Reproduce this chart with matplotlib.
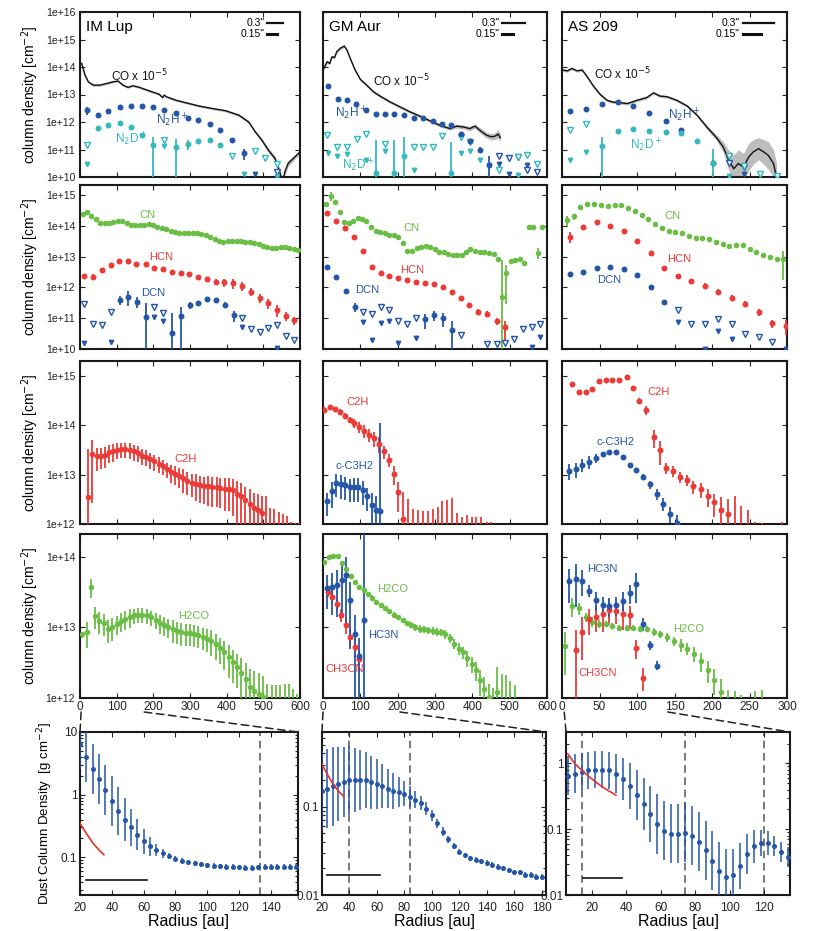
import numpy as np
import matplotlib
matplotlib.use("Agg")
import matplotlib.pyplot as plt
from matplotlib.patches import ConnectionPatch
from matplotlib.ticker import FixedLocator, FuncFormatter, NullLocator, LogLocator, NullFormatter
from matplotlib.transforms import blended_transform_factory

plt.rcParams['font.family'] = ['Liberation Sans', 'DejaVu Sans']

BLUE = '#2656a8'
CYAN = '#35b9bd'
GREEN = '#6abd45'
RED = '#ec3a37'

# ---------------- row 1: CO, N2H+, N2D+ ----------------
# IM Lup
imlup_co_r = [4.5, 13.5, 22.6, 36, 54, 72, 90, 104, 117, 131, 144, 162, 189, 216, 225, 230, 235,
              262, 298, 325, 361, 397, 433, 460, 478, 496, 514, 532, 546, 552, 559, 568, 586, 600]
imlup_co_log = [14.13, 13.71, 13.46, 13.34, 13.34, 13.40, 13.46, 13.49, 13.34, 13.26, 13.32, 13.26,
                13.13, 13.01, 12.89, 12.98, 12.92, 12.79, 12.67, 12.58, 12.49, 12.41, 12.25, 12.00,
                11.64, 11.34, 10.97, 10.67, 10.12, 9.8, 10.2, 10.5, 10.73, 10.91]
imlup_co_err = [0.08, 0.06, 0.05] + [0.04] * 19 + [0.05, 0.05, 0.06, 0.07, 0.08, 0.1, 0.15, 0.2,
                                                     0.15, 0.1, 0.08, 0.08]
imlup_n2hp_r = [18, 48, 77, 108, 140, 170, 200, 230, 262, 294, 323, 354, 383, 415, 447]
imlup_n2hp_log = [12.43, 12.25, 12.41, 12.53, 12.58, 12.58, 12.54, 12.45, 12.33, 12.16, 12.07,
                  11.94, 11.70, 11.36, 10.87]
imlup_n2hp_rel = [0.35, 0.08, 0.08, 0.06, 0.06, 0.06, 0.06, 0.06, 0.06, 0.07, 0.07, 0.08, 0.1,
                  0.12, 0.45]
imlup_n2hp_ul_r, imlup_n2hp_ul_log = [537], [10.18]
imlup_n2hp_ul1_r, imlup_n2hp_ul1_log = [476, 537], [10.12, 9.95]
imlup_n2dp_r = [48, 77, 108, 140, 170, 200, 262, 294, 323, 354, 383]
imlup_n2dp_log = [11.79, 11.88, 11.97, 11.82, 11.54, 11.15, 11.09, 11.19, 11.31, 11.36, 11.15]
imlup_n2dp_rel = [0.06, 0.06, 0.06, 0.07, 0.08, 1.0, 1.0, 0.4, 0.12, 0.1, 0.1]
imlup_n2dp_ul_r = [18, 230, 415, 476, 505, 537]
imlup_n2dp_ul_log = [11.15, 11.36, 10.75, 10.95, 10.70, 10.46]
imlup_n2dp_ul1_r = [18, 230, 447, 537]
imlup_n2dp_ul1_log = [10.49, 11.13, 10.12, 10.05]

# GM Aur
gmaur_co_r = [2, 11, 18, 24, 31, 37, 46, 57, 64, 73, 86, 100, 117, 135, 153, 180, 206, 233, 260,
              287, 313, 340, 358, 376, 393, 407, 420, 438, 451, 460, 469, 475]
gmaur_co_log = [13.95, 14.19, 14.13, 14.37, 14.35, 14.56, 14.68, 14.76, 14.62, 14.31, 13.89, 13.55,
                13.34, 13.10, 12.94, 12.73, 12.55, 12.37, 12.21, 12.04, 11.88, 11.76, 11.85, 11.82,
                11.76, 11.85, 11.70, 11.52, 11.46, 11.48, 11.56, 11.43]
gmaur_co_err = [0.08, 0.06] + [0.05] * 18 + [0.06, 0.06, 0.07, 0.07, 0.08, 0.08, 0.1, 0.1, 0.12,
                                             0.12, 0.15, 0.15]
gmaur_n2hp_r = [13, 39, 64, 89, 116, 141, 166, 191, 217, 243, 268, 294, 319, 344, 370, 395, 420, 445]
gmaur_n2hp_log = [13.30, 12.83, 12.81, 12.67, 12.43, 12.30, 12.28, 12.28, 12.27, 12.15, 12.13,
                  12.03, 11.92, 11.88, 11.58, 11.31, 11.00, 10.45]
gmaur_n2hp_rel = [0.12, 0.05, 0.05, 0.06, 0.05, 0.05, 0.05, 0.05, 0.05, 0.05, 0.05, 0.06, 0.06,
                  0.07, 0.08, 0.1, 0.25, 1.0]
gmaur_n2hp_ul_r = [471, 497, 522, 547, 573]
gmaur_n2hp_ul_log = [10.75, 10.70, 10.73, 10.27, 10.18]
gmaur_n2hp_ul1_r, gmaur_n2hp_ul1_log = [471, 497, 547], [10.49, 10.12, 10.45]
gmaur_n2dp_r = [141, 191, 217, 344]
gmaur_n2dp_log = [10.16, 10.16, 10.75, 10.16]
gmaur_n2dp_rel = [14, 14, 4, 12]
gmaur_n2dp_ul_r = [11, 37, 64, 91, 116, 166, 243, 269, 294, 319, 370, 395, 471, 522, 547, 573]
gmaur_n2dp_ul_log = [11.52, 11.09, 11.09, 11.40, 11.58, 11.19, 11.09, 11.09, 11.09, 11.48, 11.46,
                     11.28, 10.24, 10.73, 10.79, 10.49]
gmaur_n2dp_ul1_r = [13, 37, 64, 116, 166, 243, 370, 395, 420, 445, 522]
gmaur_n2dp_ul1_log = [10.87, 10.75, 10.83, 10.63, 10.95, 10.27, 10.87, 10.93, 10.63, 10.43, 10.06]

# AS 209
as209_co_r = [1, 7, 13, 20, 27, 33, 42, 51, 60, 67, 78, 87, 100, 113, 122, 131, 140, 153, 167,
              180, 193, 206, 215, 222, 229, 235, 242, 249, 255, 262, 269, 275, 282, 286]
as209_co_log = [13.89, 13.86, 13.95, 13.86, 13.89, 13.67, 13.30, 13.00, 12.79, 12.73, 12.70, 12.67,
                12.79, 12.89, 13.06, 12.94, 12.92, 12.79, 12.58, 12.25, 11.82, 11.43, 11.09, 10.63,
                10.30, 10.49, 10.36, 10.73, 10.91, 11.03, 10.91, 10.79, 10.49, 10.0]
as209_co_err = [0.05] * 20 + [0.08, 0.1, 0.2, 0.35, 0.5, 0.5, 0.5, 0.5, 0.45, 0.4, 0.45, 0.5,
                              0.5, 0.5]
as209_n2hp_r = [11, 32, 53, 74, 95, 116, 138, 159, 201]
as209_n2hp_log = [12.41, 12.47, 12.67, 12.73, 12.59, 12.31, 12.03, 11.70, 10.51]
as209_n2hp_rel = [0.15, 0.05, 0.05, 0.05, 0.05, 0.06, 0.06, 0.08, 0.3]
as209_n2hp_ul_r, as209_n2hp_ul_log = [222, 243], [10.52, 10.35]
as209_n2hp_ul1_r, as209_n2hp_ul1_log = [243], [10.1]
as209_n2dp_r = [53, 74, 95, 116, 138, 159, 180, 201]
as209_n2dp_log = [11.13, 11.66, 11.73, 11.66, 11.64, 11.60, 11.31, 10.51]
as209_n2dp_rel = [1.2, 0.05, 0.05, 0.05, 0.05, 0.06, 0.2, 2.3]
as209_n2dp_ul_r = [11, 32, 222, 243, 264, 286]
as209_n2dp_ul_log = [11.70, 11.92, 10.77, 10.40, 10.10, 10.05]
as209_n2dp_ul1_r, as209_n2dp_ul1_log = [11, 32, 222], [10.61, 10.91, 10.05]

# ---------------- row 2: CN, HCN, DCN ----------------
imlup_cn_r = [7, 19, 31, 43, 55, 67, 79, 91, 103, 115, 127, 139, 151, 163, 175, 187, 199, 211, 223,
              235, 247, 259, 271, 283, 295, 307, 319, 331, 343, 355, 367, 379, 391, 403, 415, 427,
              439, 451, 463, 475, 487, 499, 511, 523, 535, 547, 559, 571, 583, 595]
imlup_cn_log = [14.38, 14.43, 14.32, 14.21, 14.08, 14.08, 14.10, 14.13, 14.17, 14.17, 14.08, 14.03,
                14.03, 14.03, 14.03, 14.06, 14.03, 13.97, 13.92, 13.89, 13.83, 13.81, 13.78, 13.78,
                13.78, 13.76, 13.76, 13.73, 13.70, 13.65, 13.56, 13.52, 13.48, 13.52, 13.52, 13.52,
                13.51, 13.48, 13.48, 13.45, 13.41, 13.34, 13.30, 13.27, 13.27, 13.30, 13.30, 13.27,
                13.24, 13.21]
imlup_cn_rel = [0.1] * 10 + [0.05] * 40
imlup_hcn_r = [11, 36, 60, 84, 106, 131, 153, 179, 203, 227, 251, 275, 298, 322, 346, 370, 394,
               418, 442, 466, 490, 514, 538, 561, 584]
imlup_hcn_log = [12.37, 12.35, 12.56, 12.73, 12.84, 12.87, 12.76, 12.75, 12.64, 12.60, 12.51, 12.46,
                 12.42, 12.33, 12.26, 12.19, 12.16, 12.13, 12.05, 11.86, 11.67, 11.48, 11.27, 11.08,
                 10.94]
imlup_hcn_rel = [0.2, 0.2, 0.2, 0.15, 0.12, 0.12, 0.12, 0.1, 0.1, 0.1, 0.1, 0.1, 0.12, 0.15, 0.2,
                 0.25, 0.3, 0.35, 0.3, 0.3, 0.35, 0.35, 0.4, 0.35, 0.3]
imlup_dcn_r = [108, 131, 155, 179, 251, 275, 299, 323, 347, 372, 395, 419]
imlup_dcn_log = [11.59, 11.70, 11.54, 11.03, 10.51, 11.07, 11.43, 11.50, 11.61, 11.59, 11.43, 11.10]
imlup_dcn_rel = [0.3, 0.5, 0.4, 1.9, 3.5, 1.0, 0.25, 0.12, 0.1, 0.1, 0.2, 0.4]
imlup_dcn_ul_r = [11, 36, 60, 84, 203, 227, 442, 466, 490, 514, 538, 561, 584]
imlup_dcn_ul_log = [11.46, 10.81, 10.78, 11.21, 11.37, 11.18, 11.02, 10.64, 10.56, 10.67, 10.78,
                    10.43, 10.29]
imlup_dcn_ul1_r = [11, 84, 203, 227, 442, 538]
imlup_dcn_ul1_log = [10.21, 10.24, 11.05, 10.92, 10.73, 10.02]

gmaur_cn_r = [9, 21, 33, 45, 57, 69, 80, 93, 104, 116, 128, 141, 153, 166, 178, 190, 202, 214, 226,
              239, 251, 263, 275, 287, 299, 312, 323, 336, 347, 360, 371, 384, 395, 408, 420, 432,
              444, 457, 468, 479, 491, 503, 515, 527, 539, 551, 563, 576, 587]
gmaur_cn_log = [14.71, 14.97, 14.78, 14.43, 14.13, 14.10, 14.17, 14.24, 14.21, 14.17, 13.95, 13.84,
                13.81, 13.78, 13.70, 13.70, 13.65, 13.45, 13.19, 13.19, 13.27, 13.30, 13.34, 13.32,
                13.24, 13.16, 13.16, 13.08, 13.05, 13.05, 13.05, 13.16, 13.24, 13.19, 13.16, 13.16,
                13.13, 13.08, 12.91, 11.70, 12.46, 12.87, 12.89, 12.91, 12.78, 13.97, 13.97, 13.13,
                13.97]
gmaur_cn_rel = [0.1, 0.3, 0.15] + [0.1] * 36 + [15, 0.9] + [0.1] * 6 + [0.4, 0.1]
gmaur_hcn_r = [12, 36, 60, 84, 107, 131, 155, 178, 202, 226, 250, 274, 297, 321, 345, 369, 392,
               416, 440, 465, 488]
gmaur_hcn_log = [14.40, 14.17, 13.92, 13.65, 13.18, 12.67, 12.48, 12.37, 12.29, 12.24, 12.19, 12.13,
                 12.10, 12.02, 11.85, 11.67, 11.43, 11.21, 11.14, 10.92, 10.70]
gmaur_hcn_rel = [0.12, 0.1, 0.1, 0.08, 0.08, 0.15, 0.15, 0.15, 0.15, 0.15, 0.15, 0.15, 0.15, 0.15,
                 0.15, 0.15, 0.18, 0.2, 0.2, 0.25, 0.6]
gmaur_dcn_r = [12, 36, 61, 85, 274, 297, 321, 345]
gmaur_dcn_log = [12.67, 12.33, 11.89, 11.37, 10.96, 11.10, 11.0, 10.62]
gmaur_dcn_rel = [0.08, 0.06, 0.08, 0.3, 0.5, 0.35, 0.5, 1.0]
gmaur_dcn_ul_r = [107, 131, 155, 178, 202, 226, 250, 369, 440, 465, 488, 512, 536, 560, 582]
gmaur_dcn_ul_log = [11.21, 11.14, 11.35, 11.27, 10.91, 10.81, 11.0, 10.45, 10.15, 10.15, 10.18,
                    10.31, 10.64, 10.73, 10.81]
gmaur_dcn_ul1_r = [107, 131, 155, 178, 202, 250, 560, 582]
gmaur_dcn_ul1_log = [10.89, 10.29, 10.83, 10.92, 10.21, 10.35, 10.08, 10.38]

as209_cn_r = [7, 16, 24, 33, 43, 52, 61, 70, 79, 88, 97, 106, 115, 124, 133, 142, 151, 160, 169,
              178, 187, 196, 205, 214, 223, 232, 241, 250, 259, 268, 277, 286, 295]
as209_cn_log = [14.19, 14.30, 14.62, 14.71, 14.71, 14.66, 14.64, 14.66, 14.66, 14.59, 14.48, 14.35,
                14.21, 14.06, 13.92, 13.83, 13.80, 13.76, 13.66, 13.61, 13.61, 13.57, 13.48, 13.40,
                13.35, 13.36, 13.36, 13.26, 13.16, 13.05, 12.98, 12.93, 12.93]
as209_cn_rel = [0.35, 0.25] + [0.05] * 26 + [0.15, 0.15, 0.15, 0.15, 0.8]
as209_hcn_r = [10, 28, 46, 64, 82, 100, 118, 136, 154, 172, 190, 208, 226, 244, 262, 280, 298]
as209_hcn_log = [13.65, 13.97, 14.11, 14.0, 13.83, 13.52, 13.11, 12.64, 12.37, 12.21, 12.06, 11.86,
                 11.67, 11.46, 11.21, 10.83, 10.76]
as209_hcn_rel = [0.4, 0.08, 0.06, 0.06, 0.06, 0.06, 0.06, 0.1, 0.15, 0.15, 0.18, 0.2, 0.2, 0.22,
                 0.25, 0.3, 0.5]
as209_dcn_r = [10, 28, 46, 64, 82, 100, 118, 136]
as209_dcn_log = [12.42, 12.49, 12.64, 12.67, 12.61, 12.39, 12.02, 11.52]
as209_dcn_rel = [0.15, 0.06, 0.06, 0.06, 0.06, 0.06, 0.08, 0.15]
as209_dcn_ul_r = [154, 172, 190, 208, 226, 244, 262, 280]
as209_dcn_ul_log = [11.27, 10.80, 10.80, 10.96, 10.80, 10.48, 10.38, 10.22]
as209_dcn_ul1_r = [154, 190, 208, 226, 298]
as209_dcn_ul1_log = [10.89, 10.0, 10.60, 10.31, 10.0]

# ---------------- row 3: C2H, c-C3H2 ----------------
imlup_c2h_r = [21, 34, 45, 57, 69, 79, 90, 102, 113, 124, 135, 147, 158, 170, 180, 192, 203, 215,
               225, 237, 248, 260, 271, 282, 293, 305, 316, 327, 338, 350, 361, 373, 383, 395, 406,
               418, 428, 440, 451, 463, 474, 485, 496, 508, 519, 530, 542, 553, 564, 575, 587, 598]
imlup_c2h_log = [12.54, 13.42, 13.37, 13.37, 13.40, 13.45, 13.47, 13.50, 13.52, 13.52, 13.50, 13.47,
                 13.44, 13.38, 13.36, 13.31, 13.27, 13.22, 13.17, 13.11, 13.05, 13.02, 12.98, 12.93,
                 12.88, 12.84, 12.82, 12.78, 12.76, 12.76, 12.75, 12.74, 12.73, 12.71, 12.71, 12.68,
                 12.61, 12.56, 12.48, 12.41, 12.32, 12.29, 12.22, 11.9, 11.85, 11.8, 11.75, 11.7,
                 11.65, 11.6, 11.55, 11.5]
imlup_c2h_rel = [8.5, 0.9, 0.5, 0.45, 0.45, 0.4, 0.4, 0.35, 0.35, 0.35] + [0.35] * 10 + \
                [0.4, 0.4, 0.45, 0.5, 0.5, 0.5, 0.55, 0.55, 0.55, 0.6, 0.6, 0.6, 0.6, 0.65, 0.65,
                 0.7, 0.8, 0.9, 0.9, 1.0, 1.0, 1.1, 1.2, 3.6, 1.95, 2.2, 2.1, 2.2, 2.2, 1.8, 2.0, 2.3]

gmaur_c2h_r = [4, 18, 31, 45, 58, 71, 84, 97, 110, 124, 137, 150, 163, 176, 189, 202, 215, 229,
               242, 255, 268, 280, 294, 307, 320, 333, 346, 359, 372, 385, 398, 411, 424, 438, 450]
gmaur_c2h_log = [14.31, 14.37, 14.33, 14.27, 14.19, 14.11, 14.04, 13.96, 13.89, 13.81, 13.74, 13.63,
                 13.47, 13.30, 13.02, 12.64, 12.10] + [11.5] * 18
gmaur_c2h_rel = [0.15, 0.12, 0.12, 0.12, 0.15, 0.15, 0.2, 0.25, 0.3, 0.3, 0.35, 0.35, 0.3, 0.3,
                 0.4, 0.6, 2.5, 9.2, 5.3, 5.0, 4.9, 4.75, 5.3, 5.9, 8.3, 8.5, 9.7, 4.2, 3.4, 3.8,
                 3.3, 3.3, 3.3, 2.5, 2.5]
gmaur_cc3h2_r = [11, 23, 36, 47, 60, 71, 84, 95, 107, 119, 131, 142, 154]
gmaur_cc3h2_log = [12.46, 12.67, 12.84, 12.81, 12.78, 12.74, 12.75, 12.75, 12.69, 12.56, 12.39,
                   12.29, 12.26]
gmaur_cc3h2_rel = [0.5, 0.55, 0.5, 0.5, 0.5, 0.5, 0.5, 0.5, 0.5, 0.5, 0.7, 0.9, 60]

as209_c2h_r = [13, 22, 32, 40, 49, 59, 67, 76, 86, 95, 103, 112, 122, 131, 139, 148, 157, 167,
               175, 185, 194, 202, 212, 221, 230, 239, 248, 257, 266, 293]
as209_c2h_log = [14.83, 14.68, 14.67, 14.73, 14.89, 14.92, 14.91, 14.91, 14.97, 14.75, 14.50, 14.31,
                 13.76, 13.50, 13.13, 13.08, 12.96, 12.90, 12.76, 12.71, 12.56, 12.44, 12.29, 12.20,
                 11.5, 11.5, 11.5, 11.5, 11.5, 11.5]
as209_c2h_rel = [0.03] * 9 + [0.12, 0.15, 0.2, 0.4, 0.5, 0.25, 0.25, 0.25, 0.25, 0.3, 0.35, 0.4,
                              0.5, 0.8, 1.0, 10.5, 6.2, 5.0, 2.4, 2.3, 2.5]
as209_cc3h2_r = [9, 18, 27, 36, 45, 54, 63, 72, 81, 90, 99, 108, 117, 126, 135, 144, 153]
as209_cc3h2_log = [13.08, 13.11, 13.20, 13.26, 13.34, 13.42, 13.46, 13.46, 13.36, 13.20, 13.09,
                   12.96, 12.80, 12.61, 12.41, 12.21, 12.03]
as209_cc3h2_rel = [0.35, 0.35, 0.3, 0.3, 0.2, 0.1, 0.05, 0.05, 0.05, 0.08, 0.1, 0.15, 0.2, 0.25,
                   0.3, 0.35, 0.4]

# ---------------- row 4: H2CO, HC3N, CH3CN ----------------
imlup_h2co_r = [5, 18, 30, 41, 53, 65, 77, 88, 100, 112, 124, 135, 147, 159, 170, 182, 194, 206,
                217, 229, 241, 253, 264, 276, 288, 299, 311, 323, 335, 346, 358, 370, 382, 393,
                405, 417, 428, 440, 452, 464, 475, 487, 499, 511, 523, 534, 546, 558, 570, 582, 593]
imlup_h2co_log = [12.90, 12.93, 13.57, 13.16, 13.09, 13.06, 12.97, 13.00, 13.05, 13.09, 13.12,
                  13.15, 13.17, 13.18, 13.18, 13.17, 13.14, 13.10, 13.06, 13.03, 13.00, 12.97,
                  12.95, 12.93, 12.92, 12.92, 12.91, 12.89, 12.86, 12.84, 12.81, 12.76, 12.71,
                  12.65, 12.58, 12.51, 12.44, 12.36, 12.27, 12.16, 12.10, 12.05, 12.01] + [11.7] * 8
imlup_h2co_rel = [0.1, 0.4, 0.3, 0.35, 0.35, 0.35, 0.35, 0.35, 0.3, 0.3, 0.3, 0.3, 0.25, 0.25,
                  0.25, 0.25, 0.25, 0.25, 0.3, 0.3, 0.3, 0.35, 0.35, 0.35, 0.35, 0.35, 0.35, 0.35,
                  0.35, 0.35, 0.4, 0.4, 0.4, 0.45, 0.5, 0.5, 0.5, 0.6, 0.7, 0.8, 0.9, 1.0, 1.0,
                  2.2, 2.0, 2.0, 2.0, 2.1, 2.1, 1.7, 1.3]

gmaur_h2co_r = [4, 16, 28, 39, 51, 62, 74, 85, 97, 109, 120, 132, 143, 155, 166, 178, 190, 201,
                213, 224, 236, 247, 259, 271, 282, 294, 305, 317, 328, 340, 352, 363, 375, 386,
                398, 409, 421, 432, 444, 456, 467, 479, 490, 502, 513]
gmaur_h2co_log = [13.92, 13.99, 14.01, 14.01, 13.91, 13.82, 13.73, 13.64, 13.57, 13.53, 13.47,
                  13.42, 13.36, 13.31, 13.27, 13.23, 13.18, 13.14, 13.10, 13.06, 13.03, 13.00,
                  12.98, 12.97, 12.96, 12.95, 12.94, 12.93, 12.90, 12.85, 12.77, 12.70, 12.65,
                  12.57, 12.48, 12.39, 12.25, 12.13, 12.02, 11.7, 12.08, 11.7, 11.7, 11.7, 11.7]
gmaur_h2co_rel = [0.05] * 8 + [0.06, 0.06] + [0.08] * 10 + \
                 [0.1, 0.1, 0.12, 0.12, 0.12, 0.12, 0.12, 0.12, 0.15, 0.15, 0.15, 0.2, 0.2, 0.25,
                  0.25, 0.3, 0.4, 0.45, 0.5, 1.8, 1.3, 3.4, 3.2, 2.5, 2.0]
gmaur_hc3n_r = [12, 25, 37, 50, 61, 73, 85, 97, 109]
gmaur_hc3n_log = [13.56, 13.57, 13.60, 13.67, 13.74, 13.39, 12.90, 12.60, 13.11]
gmaur_hc3n_rel = [0.5, 0.6, 0.65, 0.7, 0.8, 0.8, 0.9, 0.8, 20]
gmaur_ch3cn_r = [13, 25, 37, 49, 61, 73, 85, 96]
gmaur_ch3cn_log = [13.50, 13.43, 13.33, 13.18, 13.03, 12.87, 12.72, 12.55]
gmaur_ch3cn_rel = [0.15, 0.2, 0.2, 0.2, 0.25, 0.3, 0.3, 0.35]

as209_h2co_r = [4, 13, 23, 32, 40, 49, 59, 67, 76, 86, 95, 104, 113, 122, 131, 140, 149, 158, 167,
                176, 185, 194, 203, 212, 221, 230, 239, 257, 266]
as209_h2co_log = [12.73, 13.30, 13.27, 13.14, 13.08, 13.05, 13.05, 13.02, 12.99, 12.99, 12.99,
                  12.98, 12.98, 12.94, 12.90, 12.86, 12.81, 12.75, 12.70, 12.63, 12.53, 12.40,
                  12.26, 12.09, 11.7, 11.7, 11.7, 11.7, 11.7]
as209_h2co_rel = [0.6, 0.3, 0.2, 0.15, 0.15, 0.12, 0.1, 0.1, 0.1, 0.1, 0.1, 0.1, 0.1, 0.12, 0.12,
                  0.15, 0.15, 0.2, 0.2, 0.25, 0.3, 0.35, 0.4, 0.5, 1.6, 1.5, 1.2, 1.5, 1.6]
as209_hc3n_r = [9, 18, 27, 36, 45, 54, 63, 72, 81, 90, 99, 108, 117, 126]
as209_hc3n_log = [13.65, 13.69, 13.66, 13.52, 13.39, 13.32, 13.30, 13.31, 13.38, 13.48, 13.61,
                  13.05, 12.75, 12.46]
as209_hc3n_rel = [0.5, 0.6, 0.4, 0.2, 0.3, 0.3, 0.3, 0.3, 0.3, 0.3, 0.45, 0.2, 0.15, 0.15]
as209_ch3cn_r = [18, 27, 36, 45, 54, 63, 72, 81, 90, 99, 108]
as209_ch3cn_log = [12.68, 12.94, 13.12, 13.15, 13.19, 13.25, 13.23, 13.19, 13.17, 12.71, 12.29]
as209_ch3cn_rel = [0.9, 0.6, 0.4, 0.4, 0.45, 0.4, 0.35, 0.4, 0.35, 0.3, 0.35]

# ---------------- row 5: dust column density ----------------
imlup_dust_r = [20, 24, 28, 32, 36, 40, 44, 48, 52, 56, 60, 64, 68, 72, 76, 80, 84, 88, 92, 96, 100,
                104, 108, 112, 116, 120, 124, 128, 132, 136, 140, 144, 148, 152, 156]
imlup_dust = [6.5, 4.0, 2.6, 1.8, 1.2, 0.80, 0.55, 0.40, 0.30, 0.23, 0.18, 0.15, 0.13, 0.115,
              0.105, 0.095, 0.088, 0.083, 0.080, 0.077, 0.075, 0.073, 0.072, 0.071, 0.070, 0.069,
              0.068, 0.068, 0.069, 0.070, 0.070, 0.071, 0.071, 0.070, 0.070]
imlup_dust_dex = [0.4, 0.4, 0.4, 0.4, 0.4, 0.4, 0.38, 0.35, 0.3, 0.25, 0.2, 0.15, 0.1, 0.07,
                  0.05] + [0.04] * 20
imlup_model_r, imlup_model = [20, 24, 28, 32, 35], [0.35, 0.24, 0.17, 0.13, 0.11]
imlup_beam_r, imlup_beam_y = [24, 62], 0.044
imlup_rings = [133]

gmaur_dust_r = [20, 24, 28, 32, 36, 40, 44, 48, 52, 56, 60, 64, 68, 72, 76, 80, 84, 88, 92, 96,
                100, 104, 108, 112, 116, 120, 124, 128, 132, 136, 140, 144, 148, 152, 156, 160,
                164, 168, 172, 176, 180]
gmaur_dust = [0.15, 0.16, 0.17, 0.18, 0.19, 0.20, 0.20, 0.20, 0.20, 0.19, 0.18, 0.17, 0.16, 0.15,
              0.145, 0.14, 0.13, 0.12, 0.11, 0.095, 0.08, 0.065, 0.052, 0.043, 0.036, 0.031,
              0.028, 0.026, 0.025, 0.024, 0.023, 0.022, 0.021, 0.020, 0.019, 0.018, 0.018, 0.017,
              0.017, 0.016, 0.016]
gmaur_dust_dex = [0.45, 0.45, 0.45, 0.42, 0.4, 0.38, 0.36, 0.34, 0.32, 0.3, 0.28, 0.25, 0.22, 0.2,
                  0.17, 0.14, 0.12, 0.1, 0.08, 0.07, 0.06, 0.05, 0.05, 0.04] + [0.03] * 17
gmaur_model_r, gmaur_model = [20, 24, 28, 32, 36], [0.30, 0.23, 0.18, 0.15, 0.13]
gmaur_beam_r, gmaur_beam_y = [24, 62], 0.017
gmaur_rings = [40, 84]

as209_dust_r = [6, 10, 14, 18, 22, 26, 30, 34, 38, 42, 46, 50, 54, 58, 62, 66, 70, 74, 78, 82, 86,
                90, 94, 98, 102, 106, 110, 114, 118, 122, 126, 130, 134]
as209_dust = [0.65, 0.70, 0.75, 0.78, 0.80, 0.80, 0.78, 0.70, 0.58, 0.45, 0.33, 0.24, 0.17, 0.12,
              0.095, 0.085, 0.085, 0.088, 0.080, 0.065, 0.048, 0.033, 0.023, 0.019, 0.020, 0.028,
              0.042, 0.055, 0.062, 0.062, 0.055, 0.045, 0.038]
as209_dust_dex = [0.3, 0.3, 0.28, 0.28, 0.28, 0.28, 0.28, 0.3, 0.32, 0.35, 0.38, 0.4, 0.42, 0.45,
                  0.45, 0.45, 0.45, 0.45, 0.45, 0.45, 0.45, 0.45, 0.45, 0.42, 0.4, 0.35, 0.3, 0.25,
                  0.2, 0.18, 0.15, 0.15, 0.15]
as209_model_r = [6, 10, 15, 20, 25, 30, 34]
as209_model = [1.4, 1.0, 0.75, 0.58, 0.46, 0.38, 0.33]
as209_beam_r, as209_beam_y = [15, 37.6], 0.018
as209_rings = [14, 74, 120]

SOURCES = ['IM Lup', 'GM Aur', 'AS 209']

# ---------------- layout (pixel boxes) ----------------
W, H = 827, 931
COLS = [(80, 300), (323, 547), (562, 787)]
ROWS = [(12, 177), (185, 349), (361, 524), (534, 698)]
BOTTOM_COLS = [(80, 298), (322, 546), (566, 790)]
BOTTOM_ROW = (732, 895)
XMAX = [600, 600, 300]
YLIMS = [(1e10, 1e16), (1e10, 2.1e15), (1e12, 2e15), (1e12, 2.1e14)]
# where the dashed zoom guides leave the upper panels (data x), left and right
ZOOM_FROM = [(3, 175), (0, 206), (3, 141)]


def px_axes(fig, xs, ys):
    x0, x1 = xs
    y0, y1 = ys
    return fig.add_axes([x0 / W, 1 - y1 / H, (x1 - x0) / W, (y1 - y0) / H])


def style_box(ax):
    for s in ax.spines.values():
        s.set_linewidth(1.5)
        s.set_color('#1a1a1a')
    ax.tick_params(which='both', direction='in', top=True, right=True, labelsize=7.5,
                   width=0.8, colors='#222222')
    ax.tick_params(which='major', length=3.5)
    ax.tick_params(which='minor', length=2)


def detections(ax, r, logn, rel, color, ms=4.3, cap=1.2):
    v = 10.0 ** np.asarray(logn)
    err = v * np.asarray(rel)
    lo = np.minimum(err, v * (1 - 1e-9))
    ax.errorbar(r, v, yerr=[lo, err], fmt='o', color=color, ms=ms, mew=0, elinewidth=1.3,
                capsize=cap, capthick=1.0, zorder=3)


def limits(ax, r3, log3, r1, log1, color):
    ax.plot(r3, 10.0 ** np.asarray(log3), 'v', mfc='white', mec=color, mew=1.0, ms=4.6,
            ls='none', zorder=3)
    ax.plot(r1, 10.0 ** np.asarray(log1), 'v', color=color, ms=3.2, ls='none', zorder=3)


def co_line(ax, r, logn, err_dex):
    v = 10.0 ** np.asarray(logn)
    e = np.asarray(err_dex)
    ax.fill_between(r, v * 10.0 ** (-e), v * 10.0 ** e, color='#bdbdbd', lw=0, zorder=1)
    ax.plot(r, v, color='#111111', lw=1.0, zorder=2)


def label(ax, x, logn, text, color, size=8):
    ax.text(x, 10.0 ** logn, text, color=color, fontsize=size, ha='left', va='center', zorder=5)


fig = plt.figure(figsize=(W / 100, H / 100), dpi=100)

axes = [[px_axes(fig, COLS[j], ROWS[i]) for j in range(3)] for i in range(4)]
dec_fmt = FuncFormatter(lambda v, p: f"1e+{int(round(np.log10(v)))}")

for i in range(4):
    for j in range(3):
        ax = axes[i][j]
        ax.set_yscale('log')
        ax.set_xlim(0, XMAX[j])
        ax.set_ylim(*YLIMS[i])
        style_box(ax)
        ax.yaxis.set_major_locator(LogLocator(base=10, numticks=12))
        ax.yaxis.set_minor_locator(NullLocator())
        step = 100 if XMAX[j] == 600 else 50
        ax.xaxis.set_major_locator(FixedLocator(list(range(0, XMAX[j] + 1, step))))
        if j == 0:
            ax.yaxis.set_major_formatter(dec_fmt)
            ax.set_ylabel('column density [cm$^{-2}$]', fontsize=10, labelpad=3)
        else:
            ax.yaxis.set_major_formatter(NullFormatter())
        if i < 3:
            ax.xaxis.set_major_formatter(NullFormatter())
        else:
            ax.tick_params(axis='x', labelsize=8.5, pad=2)

# row 1
scale_pos = [(0.84, 0.85, 0.923, 0.895), (0.79, 0.80, 0.90, 0.85), (0.79, 0.805, 0.94, 0.885)]
for j, name in enumerate(SOURCES):
    ax = axes[0][j]
    ax.text(0.025, 0.95, name, transform=ax.transAxes, fontsize=11, ha='left', va='top')
    tx, l0, l1, l2 = scale_pos[j]
    ax.text(tx, 0.933, '0.3"', transform=ax.transAxes, fontsize=7.5, ha='right', va='center')
    ax.text(tx, 0.867, '0.15"', transform=ax.transAxes, fontsize=7.5, ha='right', va='center')
    ax.plot([l0, l1], [0.933, 0.933], transform=ax.transAxes, color='#111111', lw=1.6)
    ax.plot([l0, l2], [0.867, 0.867], transform=ax.transAxes, color='#111111', lw=2.2)

ax = axes[0][0]
co_line(ax, imlup_co_r, imlup_co_log, imlup_co_err)
detections(ax, imlup_n2hp_r, imlup_n2hp_log, imlup_n2hp_rel, BLUE, cap=0)
limits(ax, imlup_n2hp_ul_r, imlup_n2hp_ul_log, imlup_n2hp_ul1_r, imlup_n2hp_ul1_log, BLUE)
detections(ax, imlup_n2dp_r, imlup_n2dp_log, imlup_n2dp_rel, CYAN, cap=0)
limits(ax, imlup_n2dp_ul_r, imlup_n2dp_ul_log, imlup_n2dp_ul1_r, imlup_n2dp_ul1_log, CYAN)
label(ax, 84, 13.67, 'CO x 10$^{-5}$', '#111111', 8.5)
label(ax, 207, 12.07, 'N$_2$H$^+$', BLUE, 8.5)
label(ax, 95, 11.36, 'N$_2$D$^+$', CYAN, 8.5)

ax = axes[0][1]
co_line(ax, gmaur_co_r, gmaur_co_log, gmaur_co_err)
detections(ax, gmaur_n2hp_r, gmaur_n2hp_log, gmaur_n2hp_rel, BLUE, cap=0)
limits(ax, gmaur_n2hp_ul_r, gmaur_n2hp_ul_log, gmaur_n2hp_ul1_r, gmaur_n2hp_ul1_log, BLUE)
detections(ax, gmaur_n2dp_r, gmaur_n2dp_log, gmaur_n2dp_rel, CYAN, cap=0)
limits(ax, gmaur_n2dp_ul_r, gmaur_n2dp_ul_log, gmaur_n2dp_ul1_r, gmaur_n2dp_ul1_log, CYAN)
label(ax, 135, 13.49, 'CO x 10$^{-5}$', '#111111', 8.5)
label(ax, 31, 12.33, 'N$_2$H$^+$', BLUE, 8.5)
label(ax, 51, 10.42, 'N$_2$D$^+$', CYAN, 8.5)

ax = axes[0][2]
co_line(ax, as209_co_r, as209_co_log, as209_co_err)
detections(ax, as209_n2hp_r, as209_n2hp_log, as209_n2hp_rel, BLUE, cap=0)
limits(ax, as209_n2hp_ul_r, as209_n2hp_ul_log, as209_n2hp_ul1_r, as209_n2hp_ul1_log, BLUE)
detections(ax, as209_n2dp_r, as209_n2dp_log, as209_n2dp_rel, CYAN, cap=0)
limits(ax, as209_n2dp_ul_r, as209_n2dp_ul_log, as209_n2dp_ul1_r, as209_n2dp_ul1_log, CYAN)
label(ax, 42, 13.74, 'CO x 10$^{-5}$', '#111111', 8.5)
label(ax, 142, 12.25, 'N$_2$H$^+$', BLUE, 8.5)
label(ax, 91, 11.15, 'N$_2$D$^+$', CYAN, 8.5)

# row 2
ax = axes[1][0]
detections(ax, imlup_cn_r, imlup_cn_log, imlup_cn_rel, GREEN, ms=4.0)
detections(ax, imlup_hcn_r, imlup_hcn_log, imlup_hcn_rel, RED)
detections(ax, imlup_dcn_r, imlup_dcn_log, imlup_dcn_rel, BLUE)
limits(ax, imlup_dcn_ul_r, imlup_dcn_ul_log, imlup_dcn_ul1_r, imlup_dcn_ul1_log, BLUE)
label(ax, 161, 14.35, 'CN', GREEN)
label(ax, 188, 12.98, 'HCN', RED)
label(ax, 167, 11.81, 'DCN', BLUE)

ax = axes[1][1]
detections(ax, gmaur_cn_r, gmaur_cn_log, gmaur_cn_rel, GREEN, ms=4.0)
detections(ax, gmaur_hcn_r, gmaur_hcn_log, gmaur_hcn_rel, RED)
detections(ax, gmaur_dcn_r, gmaur_dcn_log, gmaur_dcn_rel, BLUE)
limits(ax, gmaur_dcn_ul_r, gmaur_dcn_ul_log, gmaur_dcn_ul1_r, gmaur_dcn_ul1_log, BLUE)
label(ax, 214, 13.92, 'CN', GREEN)
label(ax, 206, 12.56, 'HCN', RED)
label(ax, 86, 11.92, 'DCN', BLUE)

ax = axes[1][2]
detections(ax, as209_cn_r, as209_cn_log, as209_cn_rel, GREEN, ms=4.0)
detections(ax, as209_hcn_r, as209_hcn_log, as209_hcn_rel, RED)
detections(ax, as209_dcn_r, as209_dcn_log, as209_dcn_rel, BLUE)
limits(ax, as209_dcn_ul_r, as209_dcn_ul_log, as209_dcn_ul1_r, as209_dcn_ul1_log, BLUE)
label(ax, 136, 14.30, 'CN', GREEN)
label(ax, 140, 12.91, 'HCN', RED)
label(ax, 47, 12.24, 'DCN', BLUE)

# row 3
ax = axes[2][0]
detections(ax, imlup_c2h_r, imlup_c2h_log, imlup_c2h_rel, RED, ms=4.0)
label(ax, 257, 13.31, 'C2H', RED)

ax = axes[2][1]
detections(ax, gmaur_c2h_r, gmaur_c2h_log, gmaur_c2h_rel, RED)
detections(ax, gmaur_cc3h2_r, gmaur_cc3h2_log, gmaur_cc3h2_rel, BLUE)
label(ax, 62, 14.48, 'C2H', RED)
label(ax, 33, 13.18, 'c-C3H2', BLUE)

ax = axes[2][2]
detections(ax, as209_c2h_r, as209_c2h_log, as209_c2h_rel, RED)
detections(ax, as209_cc3h2_r, as209_cc3h2_log, as209_cc3h2_rel, BLUE)
label(ax, 114, 14.67, 'C2H', RED)
label(ax, 46, 13.67, 'c-C3H2', BLUE)

# row 4
ax = axes[3][0]
detections(ax, imlup_h2co_r, imlup_h2co_log, imlup_h2co_rel, GREEN, ms=4.0)
label(ax, 268, 13.16, 'H2CO', GREEN)

ax = axes[3][1]
detections(ax, gmaur_h2co_r, gmaur_h2co_log, gmaur_h2co_rel, GREEN, ms=4.0)
detections(ax, gmaur_ch3cn_r, gmaur_ch3cn_log, gmaur_ch3cn_rel, RED)
detections(ax, gmaur_hc3n_r, gmaur_hc3n_log, gmaur_hc3n_rel, BLUE)
label(ax, 146, 13.54, 'H2CO', GREEN)
label(ax, 122, 12.89, 'HC3N', BLUE)
label(ax, 6, 12.41, 'CH3CN', RED)

ax = axes[3][2]
detections(ax, as209_h2co_r, as209_h2co_log, as209_h2co_rel, GREEN, ms=4.0)
detections(ax, as209_ch3cn_r, as209_ch3cn_log, as209_ch3cn_rel, RED)
detections(ax, as209_hc3n_r, as209_hc3n_log, as209_hc3n_rel, BLUE)
label(ax, 33, 13.83, 'HC3N', BLUE)
label(ax, 148, 12.98, 'H2CO', GREEN)
label(ax, 22, 12.36, 'CH3CN', RED)

# row 5: dust
dust = [
    (imlup_dust_r, imlup_dust, imlup_dust_dex, imlup_model_r, imlup_model, imlup_beam_r,
     imlup_beam_y, imlup_rings, (20, 157), (0.025, 10), [20, 40, 60, 80, 100, 120, 140],
     [0.1, 1, 10]),
    (gmaur_dust_r, gmaur_dust, gmaur_dust_dex, gmaur_model_r, gmaur_model, gmaur_beam_r,
     gmaur_beam_y, gmaur_rings, (20, 183), (0.01, 0.7), [20, 40, 60, 80, 100, 120, 140, 160, 180],
     [0.01, 0.1]),
    (as209_dust_r, as209_dust, as209_dust_dex, as209_model_r, as209_model, as209_beam_r,
     as209_beam_y, as209_rings, (5, 135), (0.01, 3), [20, 40, 60, 80, 100, 120],
     [0.01, 0.1, 1]),
]

bottom_axes = []
for j, (r, val, dex, mr, mv, br, by, rings, xl, yl, xt, yt) in enumerate(dust):
    ax = px_axes(fig, BOTTOM_COLS[j], BOTTOM_ROW)
    bottom_axes.append(ax)
    ax.set_yscale('log')
    ax.set_xlim(*xl)
    ax.set_ylim(*yl)
    style_box(ax)
    v = np.asarray(val)
    d = np.asarray(dex)
    ax.errorbar(r, v, yerr=[v - v * 10.0 ** (-d), v * 10.0 ** d - v], fmt='o', color=BLUE, ms=3.6,
                mew=0, elinewidth=1.1, capsize=1.2, capthick=0.9, zorder=3)
    ax.plot(mr, mv, color='#e8302c', lw=1.2, zorder=4)
    ax.plot(br, [by, by], color='#111111', lw=1.2)
    for rr in rings:
        ax.axvline(rr, color='#555555', ls=(0, (5, 3)), lw=1.1, zorder=1)
    ax.xaxis.set_major_locator(FixedLocator(xt))
    ax.yaxis.set_major_locator(FixedLocator(yt))
    ax.yaxis.set_major_formatter(FuncFormatter(lambda t, p: f"{t:g}"))
    ax.yaxis.set_minor_formatter(NullFormatter())
    ax.tick_params(axis='y', labelsize=8.5, pad=2)
    ax.tick_params(axis='x', labelsize=8.5, pad=5)
    ax.set_xlabel('Radius [au]', fontsize=11.5, labelpad=0)
    if j == 0:
        ax.set_ylabel('Dust Column Density  [g cm$^{-2}$]', fontsize=9.5, labelpad=4)

# dashed zoom connectors
for j in range(3):
    ax4 = axes[3][j]
    ax5 = bottom_axes[j]
    tr = blended_transform_factory(ax4.transData, fig.transFigure)
    yfig = 1 - 712 / H
    for xd, corner in zip(ZOOM_FROM[j], ((0, 1), (1, 1))):
        con = ConnectionPatch(xyA=(xd, yfig), coordsA=tr, xyB=corner, coordsB=ax5.transAxes,
                              ls=(0, (5, 3)), color='#222222', lw=1.1)
        fig.add_artist(con)

fig.savefig('out.png', dpi=100, facecolor='white')
